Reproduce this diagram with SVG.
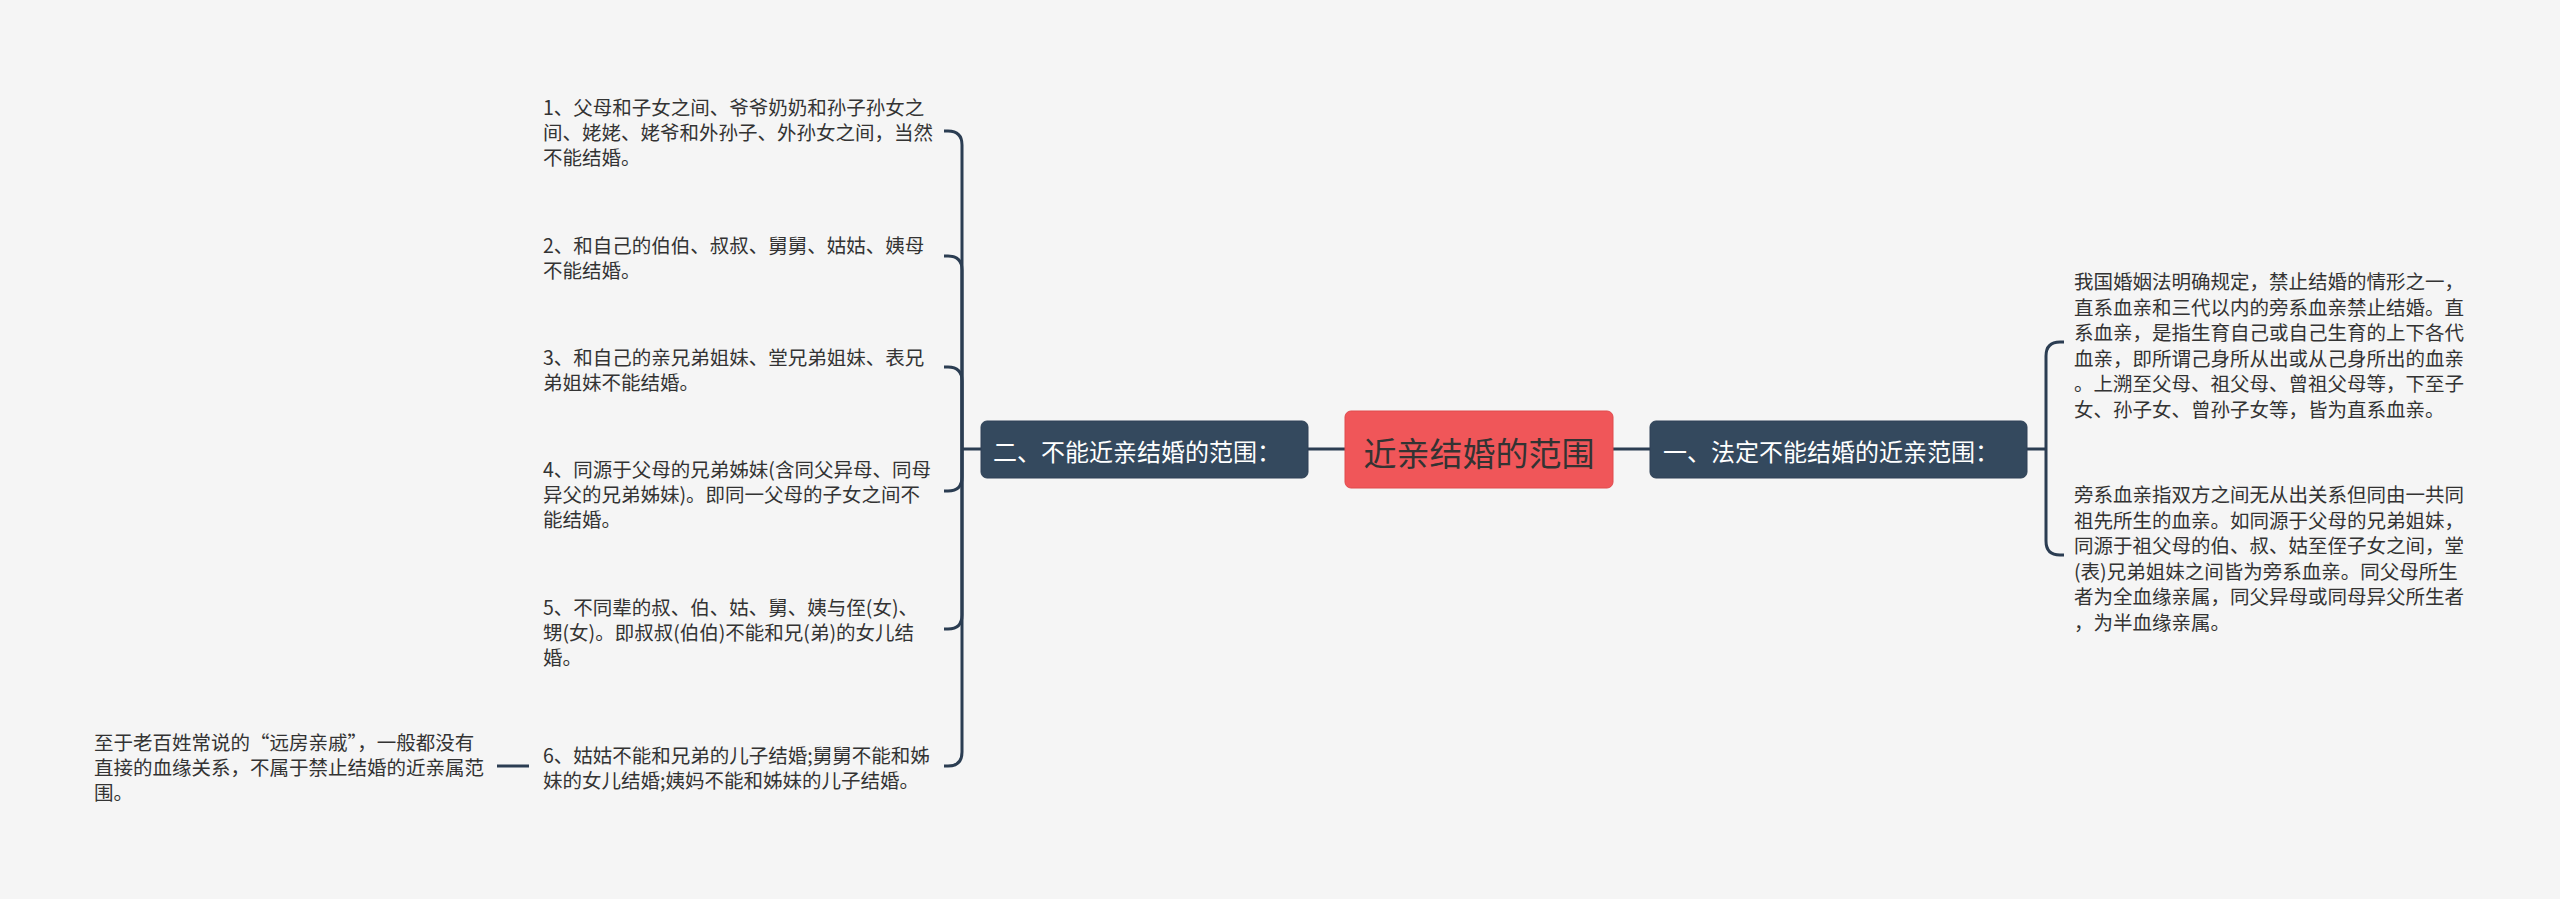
<svg xmlns="http://www.w3.org/2000/svg" width="2560" height="899" viewBox="0 0 2560 899">
<style>
.bg{fill:#f5f5f5}
.ln{fill:none;stroke:#2b3d52;stroke-width:3;stroke-linecap:butt}
.t{font-family:"Noto Sans CJK SC","Noto Sans",sans-serif;font-size:19.5px;fill:#333333}
.main{fill:#34495e;stroke:#2e4156;stroke-width:1}
.mt{font-family:"Noto Sans CJK SC","Noto Sans",sans-serif;font-size:24px;fill:#ffffff}
.root{fill:#f05659;stroke:#e04a4d;stroke-width:1}
.rt{font-family:"Noto Sans CJK SC","Noto Sans",sans-serif;font-size:33px;fill:#333333}
</style>
<rect class="bg" x="0" y="0" width="2560" height="899"/>
<g id="connectors">
<path class="ln" d="M1345,449 H1308"/>
<path class="ln" d="M1613,449 H1650"/>
<path class="ln" d="M981,449 H962"/>
<path class="ln" d="M2027,449 H2046"/>
<path class="ln" d="M962,449 V145 Q962,131 948,131 H944"/>
<path class="ln" d="M962,449 V270 Q962,256 948,256 H944"/>
<path class="ln" d="M962,449 V381 Q962,367 948,367 H944"/>
<path class="ln" d="M962,449 V477 Q962,491 948,491 H944"/>
<path class="ln" d="M962,449 V615 Q962,629 948,629 H944"/>
<path class="ln" d="M962,449 V752 Q962,766 948,766 H944"/>
<path class="ln" d="M2046,449 V356 Q2046,342 2060,342 H2064"/>
<path class="ln" d="M2046,449 V541 Q2046,555 2060,555 H2064"/>
<path class="ln" d="M529,766 H497"/>
</g>
<g id="root">
<rect class="root" x="1345" y="411" width="268" height="77" rx="6"/>
<text class="rt" x="1479" y="466" text-anchor="middle">近亲结婚的范围</text>
</g>
<g id="node-left">
<rect class="main" x="981" y="421" width="327" height="57" rx="6"/>
<text class="mt" x="993" y="461">二、不能近亲结婚的范围：</text>
</g>
<g id="node-right">
<rect class="main" x="1650" y="421" width="377" height="57" rx="6"/>
<text class="mt" x="1663" y="461">一、法定不能结婚的近亲范围：</text>
</g>
<g id="item1">
<text class="t" x="543" y="115">1、父母和子女之间、爷爷奶奶和孙子孙女之</text>
<text class="t" x="543" y="140">间、姥姥、姥爷和外孙子、外孙女之间，当然</text>
<text class="t" x="543" y="165">不能结婚。</text>
</g>
<g id="item2">
<text class="t" x="543" y="253">2、和自己的伯伯、叔叔、舅舅、姑姑、姨母</text>
<text class="t" x="543" y="278">不能结婚。</text>
</g>
<g id="item3">
<text class="t" x="543" y="365">3、和自己的亲兄弟姐妹、堂兄弟姐妹、表兄</text>
<text class="t" x="543" y="390">弟姐妹不能结婚。</text>
</g>
<g id="item4">
<text class="t" x="543" y="477">4、同源于父母的兄弟姊妹(含同父异母、同母</text>
<text class="t" x="543" y="502">异父的兄弟姊妹)。即同一父母的子女之间不</text>
<text class="t" x="543" y="527">能结婚。</text>
</g>
<g id="item5">
<text class="t" x="543" y="615">5、不同辈的叔、伯、姑、舅、姨与侄(女)、</text>
<text class="t" x="543" y="640">甥(女)。即叔叔(伯伯)不能和兄(弟)的女儿结</text>
<text class="t" x="543" y="665">婚。</text>
</g>
<g id="item6">
<text class="t" x="543" y="763">6、姑姑不能和兄弟的儿子结婚;舅舅不能和姊</text>
<text class="t" x="543" y="788">妹的女儿结婚;姨妈不能和姊妹的儿子结婚。</text>
</g>
<g id="item6-note">
<text class="t" x="94" y="750">至于老百姓常说的“远房亲戚”，一般都没有</text>
<text class="t" x="94" y="775">直接的血缘关系，不属于禁止结婚的近亲属范</text>
<text class="t" x="94" y="800">围。</text>
</g>
<g id="right1">
<text class="t" x="2074" y="289">我国婚姻法明确规定，禁止结婚的情形之一，</text>
<text class="t" x="2074" y="314.5">直系血亲和三代以内的旁系血亲禁止结婚。直</text>
<text class="t" x="2074" y="340">系血亲，是指生育自己或自己生育的上下各代</text>
<text class="t" x="2074" y="365.5">血亲，即所谓己身所从出或从己身所出的血亲</text>
<text class="t" x="2074" y="391">。上溯至父母、祖父母、曾祖父母等，下至子</text>
<text class="t" x="2074" y="416.5">女、孙子女、曾孙子女等，皆为直系血亲。</text>
</g>
<g id="right2">
<text class="t" x="2074" y="502">旁系血亲指双方之间无从出关系但同由一共同</text>
<text class="t" x="2074" y="527.5">祖先所生的血亲。如同源于父母的兄弟姐妹，</text>
<text class="t" x="2074" y="553">同源于祖父母的伯、叔、姑至侄子女之间，堂</text>
<text class="t" x="2074" y="578.5">(表)兄弟姐妹之间皆为旁系血亲。同父母所生</text>
<text class="t" x="2074" y="604">者为全血缘亲属，同父异母或同母异父所生者</text>
<text class="t" x="2074" y="629.5">，为半血缘亲属。</text>
</g>
</svg>
